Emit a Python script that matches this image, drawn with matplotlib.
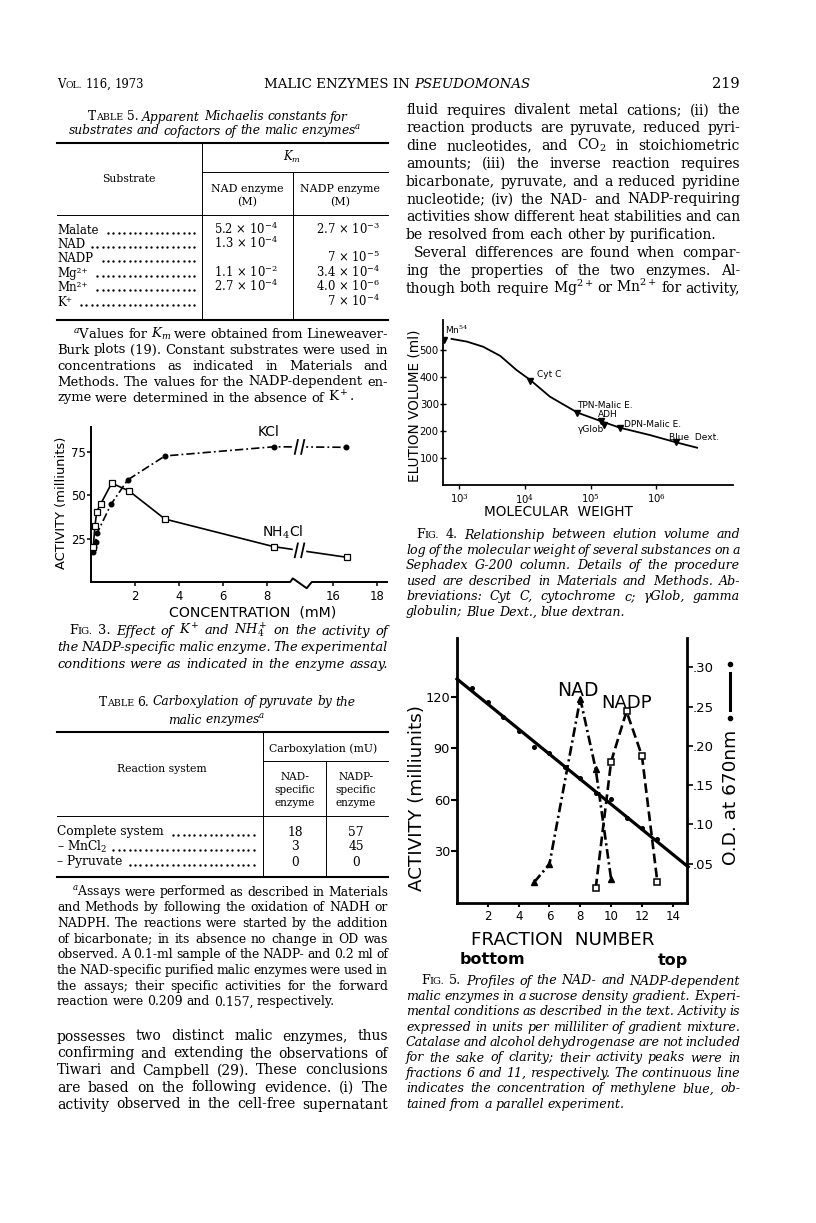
import matplotlib
matplotlib.use('Agg')
import matplotlib.pyplot as plt
import numpy as np
from matplotlib.patches import Rectangle

W, H = 816, 1223
SERIF = 'DejaVu Serif'
SANS = 'DejaVu Sans'
plt.rcParams['font.family'] = SANS
plt.rcParams['mathtext.fontset'] = 'dejavuserif'
plt.rcParams['lines.scale_dashes'] = False

# ---------------- data ----------------
# Table 5
substrates = ['Malate', 'NAD', 'NADP', 'Mg²⁺', 'Mn²⁺', 'K⁺']
km_nad = ['5.2 × 10$^{-4}$', '1.3 × 10$^{-4}$', '', '1.1 × 10$^{-2}$', '2.7 × 10$^{-4}$', '']
km_nadp = ['2.7 × 10$^{-3}$', '', '7 × 10$^{-5}$', '3.4 × 10$^{-4}$', '4.0 × 10$^{-6}$', '7 × 10$^{-4}$']

# Table 6
reactions = ['Complete system', '– MnCl$_2$', '– Pyruvate']
carb_nad = [18, 3, 0]
carb_nadp = [57, 45, 0]

# Fig 3 (concentration mM, activity milliunits)
kcl_mm = [0.10, 0.14, 0.21, 0.29, 0.91, 1.67, 3.36, 8.3, 16.6]
kcl_act = [17.5, 20.4, 23.3, 28.5, 44.8, 58.9, 72.7, 78.0, 77.7]
nh4_mm = [0.10, 0.18, 0.26, 0.44, 0.94, 1.73, 3.36, 8.3, 16.65]
nh4_act = [20.0, 32.3, 40.6, 45.0, 57.0, 52.5, 36.3, 20.4, 14.2]
conc_ticks = [2, 4, 6, 8, 16, 18]

# Fig 4 (molecular weight, elution volume ml)
markers_name = ['Mn$^{54}$', 'Cyt C', 'TPN-Malic E.', 'ADH', 'γGlob', 'DPN-Malic E.', 'Blue  Dext.']
markers_mw = [590, 12000, 63000, 145000, 160000, 280000, 2000000]
markers_vol = [537, 386, 268, 238, 222, 212, 158]
curve_mw = [760, 1300, 2300, 4200, 7400, 12000, 24000, 63000, 145000, 280000, 800000, 2000000, 4200000]
curve_vol = [541, 531, 512, 478, 426, 389, 327, 268, 236, 212, 185, 158, 138]

# Fig 5 (fraction number)
mb_frac = [1, 2, 3, 4, 5, 6, 7, 8, 9, 10, 11, 12, 13]
mb_od = [0.274, 0.256, 0.237, 0.219, 0.199, 0.191, 0.173, 0.159, 0.140, 0.132, 0.108, 0.096, 0.081]
mb_line_frac = [0, 15]
mb_line_od = [0.285, 0.046]
nad_frac = [5, 6, 8, 9, 10]
nad_act = [12.0, 22.7, 119.0, 78.0, 14.0]
nadp_frac = [9, 10, 11, 12, 13]
nadp_act = [8.5, 82.3, 111.6, 85.8, 12.4]

# ---------------- page ----------------
fig = plt.figure(figsize=(W / 100, H / 100), dpi=100)
page = fig.add_axes([0, 0, 1, 1])
page.set_xlim(0, W)
page.set_ylim(H, 0)
page.axis('off')
R = fig.canvas.get_renderer()
B = 3.5  # baseline offset from line centre
SP = 0.3 * 100 / 72  # normal word space, px per pt
GMIN = 0.2 * 100 / 72  # smallest word space allowed when justifying


def place(x, y, s, size, style='normal', ha='left', family=SERIF, **kw):
    return page.text(x, y, s, fontsize=size, style=style, ha=ha, va='baseline',
                     family=family, **kw)


def wid(t):
    return t.get_window_extent(R).width


def word(w, size, style):
    if w.startswith('^'):  # small caps
        a = place(0, 0, w[1], size)
        b = place(0, 0, w[2:].upper(), size * 0.78)
        wa = wid(a)
        return [(a, 0), (b, wa)], wa + wid(b)
    if w.startswith('~'):  # upright
        t = place(0, 0, w[1:], size)
        return [(t, 0)], wid(t)
    t = place(0, 0, w, size, style)
    return [(t, 0)], wid(t)


def drop(items):
    for parts, _ in items:
        for t, _ in parts:
            t.remove()


def line(s, x0, x1, y, size, style='normal', just=True, indent=0, center=None):
    items = [word(w, size, style) for w in s.split()]
    total = sum(wd for _, wd in items)
    n = len(items)
    if just and n > 1:
        gap = (x1 - x0 - indent - total) / (n - 1)
    else:
        gap = SP * size
    x = x0 + indent
    if center is not None:
        x = center - (total + gap * (n - 1)) / 2
    for parts, wd in items:
        for t, dx in parts:
            t.set_position((x + dx, y + B))
        x += wd + gap


def fit(lines, width, style, flags, indent, s0=10.0):
    ratios, limits = [], []
    for i, s in enumerate(lines):
        items = [word(w, s0, style) for w in s.split()]
        words = sum(wd for _, wd in items)
        n = len(items)
        drop(items)
        avail = width - (indent if i == 0 else 0)
        if flags[i]:
            ratios.append(avail / (words + (n - 1) * SP * s0))
            limits.append(avail / (words + (n - 1) * GMIN * s0))
        else:
            limits.append(avail / (words + (n - 1) * SP * s0))
    return s0 * min(float(np.median(ratios)), min(limits))


def para(lines, x0, x1, y0, dy, style='normal', indent=0, last_just=False, smax=10.0):
    flags = [last_just or i < len(lines) - 1 for i in range(len(lines))]
    size = min(fit(lines, x1 - x0, style, flags, indent), smax)
    for i, s in enumerate(lines):
        line(s, x0, x1, y0 + i * dy, size, style, flags[i], indent if i == 0 else 0)


def hrule(y, x0, x1, lw=0.7):
    page.plot([x0, x1], [y, y], color='k', lw=lw)


def vrule(x, y0, y1, lw=0.7):
    page.plot([x, x], [y0, y1], color='k', lw=lw)


def dots(x_start, x_end, y, pitch=5.4):
    xs = np.arange(np.ceil((x_start + 3) / pitch) * pitch, x_end, pitch)
    page.plot(xs, [y + B - 0.9] * len(xs), ls='none', marker='.', ms=1.4, color='k')


def rect(l, t, r, b):
    return [l / W, 1 - b / H, (r - l) / W, (b - t) / H]


L0, L1 = 57, 388
R0, R1 = 406, 740

# header
line('^Vol. 116, 1973', L0, L1, 84, 8.4, just=False)
ta = place(0, 84 + B, 'MALIC ENZYMES IN ', 9.6)
tb = place(0, 84 + B, 'PSEUDOMONAS', 9.6, style='italic')
wa, wb = wid(ta), wid(tb)
ta.set_x(397 - (wa + wb) / 2)
tb.set_x(397 - (wa + wb) / 2 + wa)
place(R1, 84 + B, '219', 10.5, ha='right')

# ---- Table 5
line('^Table ~5. Apparent Michaelis constants for', L0, L1, 117, 8.8, 'italic', False, center=218)
line('substrates and cofactors of the malic enzymes$^a$', L0, L1, 131, 8.8, 'italic', False,
     center=215)
hrule(143, L0, L1, 1.5)
hrule(172, 202, L1)
hrule(215, L0, L1)
hrule(320, L0, L1, 1.5)
vrule(202, 143, 320)
vrule(293, 172, 320)
place(292, 157 + B, '$K_m$', 8.4, ha='center')
place(129, 178 + B, 'Substrate', 7.8, ha='center')
place(247, 188 + B, 'NAD enzyme', 7.9, ha='center')
place(247, 202 + B, '(M)', 7.9, ha='center')
place(340, 188 + B, 'NADP enzyme', 7.9, ha='center')
place(340, 202 + B, '(M)', 7.9, ha='center')
for i, (sub, a, b) in enumerate(zip(substrates, km_nad, km_nadp)):
    y = 230 + 14.4 * i
    t = place(L0, y + B, sub, 8.5)
    dots(L0 + wid(t) + 2, 198, y)
    if a:
        place(278, y + B, a, 8.4, ha='right')
    if b:
        place(380, y + B, b, 8.4, ha='right')

para(['$^a$Values for $K_m$ were obtained from Lineweaver-',
      'Burk plots (19). Constant substrates were used in',
      'concentrations as indicated in Materials and',
      'Methods. The values for the NADP-dependent en-',
      'zyme were determined in the absence of K$^+$.'],
     L0, L1, 334, 16, indent=16)

# ---- Fig 3 caption
para(['^Fig. ~3. Effect of K$^+$ and NH$_4^+$ on the activity of',
      'the NADP-specific malic enzyme. The experimental',
      'conditions were as indicated in the enzyme assay.'],
     L0, L1, 631, 16.8, 'italic', indent=12, last_just=True)

# ---- Table 6
line('^Table ~6. Carboxylation of pyruvate by the', L0, L1, 702, 8.8, 'italic', False, center=227)
line('malic enzymes$^a$', L0, L1, 720, 8.8, 'italic', False, center=217)
hrule(732, L0, L1, 1.5)
hrule(761, 263, L1)
hrule(816, L0, L1)
hrule(877, L0, L1, 1.5)
vrule(263, 732, 877)
vrule(326, 761, 877)
place(323, 748 + B, 'Carboxylation (mU)', 7.8, ha='center')
place(162, 768 + B, 'Reaction system', 7.8, ha='center')
for j, s in enumerate(['NAD-', 'specific', 'enzyme']):
    place(295, 776 + 13.5 * j + B, s, 7.6, ha='center')
for j, s in enumerate(['NADP-', 'specific', 'enzyme']):
    place(356, 776 + 13.5 * j + B, s, 7.6, ha='center')
for i, (rx, a, b) in enumerate(zip(reactions, carb_nad, carb_nadp)):
    y = 832 + 15 * i
    t = place(L0, y + B, rx, 8.8)
    dots(L0 + wid(t) + 2, 259, y)
    place(295, y + B, str(a), 8.8, ha='center')
    place(356, y + B, str(b), 8.8, ha='center')

para(['$^a$Assays were performed as described in Materials',
      'and Methods by following the oxidation of NADH or',
      'NADPH. The reactions were started by the addition',
      'of bicarbonate; in its absence no change in OD was',
      'observed. A 0.1-ml sample of the NADP- and 0.2 ml of',
      'the NAD-specific purified malic enzymes were used in',
      'the assays; their specific activities for the forward',
      'reaction were 0.209 and 0.157, respectively.'],
     L0, L1, 892, 15.7, indent=15)

para(['possesses two distinct malic enzymes, thus',
      'confirming and extending the observations of',
      'Tiwari and Campbell (29). These conclusions',
      'are based on the following evidence. (i) The',
      'activity observed in the cell-free supernatant'],
     L0, L1, 1037, 17, last_just=True)

# ---- right column body
para(['fluid requires divalent metal cations; (ii) the',
      'reaction products are pyruvate, reduced pyri-',
      'dine nucleotides, and CO$_2$ in stoichiometric',
      'amounts; (iii) the inverse reaction requires',
      'bicarbonate, pyruvate, and a reduced pyridine',
      'nucleotide; (iv) the NAD- and NADP-requiring',
      'activities show different heat stabilities and can',
      'be resolved from each other by purification.'],
     R0, R1, 111, 17.8)
para(['Several differences are found when compar-',
      'ing the properties of the two enzymes. Al-',
      'though both require Mg$^{2+}$ or Mn$^{2+}$ for activity,'],
     R0, R1, 111 + 8 * 17.8, 17.8, indent=8, last_just=True)

# ---- Fig 4 caption
para(['^Fig. ~4. Relationship between elution volume and',
      'log of the molecular weight of several substances on a',
      'Sephadex G-200 column. Details of the procedure',
      'used are described in Materials and Methods. Ab-',
      'breviations: Cyt C, cytochrome c; γGlob, gamma',
      'globulin; Blue Dext., blue dextran.'],
     R0, R1, 535, 15.4, 'italic', indent=10)

# ---- Fig 5 caption
para(['^Fig. ~5. Profiles of the NAD- and NADP-dependent',
      'malic enzymes in a sucrose density gradient. Experi-',
      'mental conditions as described in the text. Activity is',
      'expressed in units per milliliter of gradient mixture.',
      'Catalase and alcohol dehydrogenase are not included',
      'for the sake of clarity; their activity peaks were in',
      'fractions 6 and 11, respectively. The continuous line',
      'indicates the concentration of methylene blue, ob-',
      'tained from a parallel experiment.'],
     R0, R1, 981, 15.4, 'italic', indent=15)


# ---------------- Fig 3 ----------------
def conc_pos(c):
    c = np.asarray(c, dtype=float)
    return np.where(c > 12, c - 5, c)


ax3 = fig.add_axes(rect(91, 427, 387, 582))
ax3.patch.set_visible(False)
ax3.set_xlim(0, 13.45)
ax3.set_ylim(0, 89.4)
for s in ['top', 'right', 'bottom']:
    ax3.spines[s].set_visible(False)
ax3.spines['left'].set_linewidth(1.4)
ax3.plot([0, 9.05, 9.17, 9.8, 10.03, 13.45], [0, 0, 2.1, -3.6, 0, 0],
         color='k', lw=1.4, clip_on=False)
ax3.set_xticks(conc_pos(conc_ticks))
ax3.set_xticklabels([str(c) for c in conc_ticks])
ax3.set_yticks([25, 50, 75])
ax3.tick_params(axis='both', direction='out', length=3, width=1.1, labelsize=8.4, pad=1)
ax3.tick_params(axis='x', pad=3)

kx, nx = conc_pos(kcl_mm), conc_pos(nh4_mm)
ax3.plot(kx, kcl_act, color='k', lw=1.2, dashes=(6, 2.2, 1.3, 2.2), zorder=2)
ax3.plot(kx, kcl_act, ls='none', marker='o', ms=3.3, color='k', zorder=5)
ax3.plot(nx, nh4_act, color='k', lw=1.2, zorder=2)
ax3.plot(nx, nh4_act, ls='none', marker='s', ms=3.8, mfc='white', mec='k', mew=0.9, zorder=5)
for xs, ys in [(kx, kcl_act), (nx, nh4_act)]:
    yb = np.interp(9.45, xs, ys)
    ax3.add_patch(Rectangle((9.18, yb - 6), 0.55, 12, color='white', zorder=3))
    for p in (9.33, 9.62):
        ax3.plot([p - 0.07, p + 0.07], [yb - 4, yb + 4], color='k', lw=1.3, zorder=4)

place(269, 433 + B, 'KCl', 10, family=SANS, ha='center')
place(283, 533 + B, 'NH$_4$Cl', 10, family=SANS, ha='center')
page.text(62, 503, 'ACTIVITY (milliunits)', fontsize=9.4, rotation=90, ha='center',
          va='center', family=SANS)
page.text(253, 613, 'CONCENTRATION  (mM)', fontsize=10.2, ha='center', va='center', family=SANS)

# ---------------- Fig 4 ----------------
ax4 = fig.add_axes(rect(443, 320, 733, 485))
ax4.patch.set_visible(False)
ax4.set_xscale('log')
ax4.set_xlim(10 ** 2.75, 10 ** 7.17)
ax4.set_ylim(0, 611)
for s in ['top', 'right']:
    ax4.spines[s].set_visible(False)
for s in ['left', 'bottom']:
    ax4.spines[s].set_linewidth(1.3)
ax4.set_xticks([1e3, 1e4, 1e5, 1e6])
ax4.set_xticklabels(['10$^{3}$', '10$^{4}$', '10$^{5}$', '10$^{6}$'])
ax4.xaxis.set_minor_locator(matplotlib.ticker.NullLocator())
ax4.set_yticks([100, 200, 300, 400, 500])
ax4.tick_params(axis='y', direction='inout', length=4, width=1, labelsize=7.3, pad=1)
ax4.tick_params(axis='x', direction='out', length=3, width=1, labelsize=7.3, pad=2)
ax4.plot(curve_mw, curve_vol, color='k', lw=1.3)
ax4.plot(markers_mw, markers_vol, ls='none', marker='v', ms=4.5, color='k')
label_offsets = [(1, 10, 'left'), (7, 6, 'left'), (0, 7, 'left'), (-3, 6, 'left'),
                 (0, -4, 'right'), (4, 3, 'left'), (-7, 5, 'left')]
for nm, mw, v, (dx, dy, ha) in zip(markers_name, markers_mw, markers_vol, label_offsets):
    ax4.annotate(nm, (mw, v), xytext=(dx, dy), textcoords='offset pixels',
                 fontsize=6.5, ha=ha, va='center')
page.text(415, 406, 'ELUTION VOLUME (ml)', fontsize=9.8, rotation=90, ha='center',
          va='center', family=SANS)
page.text(558, 512, 'MOLECULAR  WEIGHT', fontsize=9.8, ha='center', va='center', family=SANS)

# ---------------- Fig 5 ----------------
ax5 = fig.add_axes(rect(457, 638, 687, 903))
ax5.patch.set_visible(False)
ax5.set_xlim(0, (687 - 456.4) / 15.45)
ax5.set_ylim(0, (903 - 638) / 1.717)
ax5r = ax5.twinx()
ax5r.set_ylim(0, (903 - 638) / 786)
ax5.spines['top'].set_visible(False)
ax5.spines['right'].set_visible(False)
for s in ['top', 'left', 'bottom']:
    ax5r.spines[s].set_visible(False)
ax5.spines['left'].set_linewidth(2.0)
ax5.spines['bottom'].set_linewidth(2.0)
ax5r.spines['right'].set_linewidth(2.0)
ax5.set_xticks([2, 4, 6, 8, 10, 12, 14])
ax5.set_yticks([30, 60, 90, 120])
ax5r.set_yticks([0.05, 0.10, 0.15, 0.20, 0.25, 0.30])
ax5r.set_yticklabels(['.05', '.10', '.15', '.20', '.25', '.30'])
ax5.tick_params(axis='y', direction='out', length=4, width=1.5, labelsize=9.3, pad=1)
ax5.tick_params(axis='x', direction='out', length=3, width=1.5, labelsize=8.5, pad=2)
ax5r.tick_params(axis='y', direction='out', length=4, width=1.2, labelsize=9.5, pad=0)

ax5r.plot(mb_line_frac, mb_line_od, color='k', lw=2.3, clip_on=False)
ax5r.plot(mb_frac, mb_od, ls='none', marker='o', ms=2.6, color='k')
ax5.plot(nad_frac, nad_act, color='k', lw=1.9, dashes=(7, 2.6, 1.6, 2.6))
ax5.plot(nad_frac, nad_act, ls='none', marker='^', ms=5, color='k')
ax5.plot(nadp_frac, nadp_act, color='k', lw=1.9, dashes=(7, 3.2))
ax5.plot(nadp_frac, nadp_act, ls='none', marker='s', ms=5, mfc='white', mec='k', mew=1.1)

page.text(578, 690, 'NAD', fontsize=13.5, ha='center', va='center', family=SANS)
page.text(627, 703, 'NADP', fontsize=13, ha='center', va='center', family=SANS)
page.text(417, 798, 'ACTIVITY (milliunits)', fontsize=13.2, rotation=90, ha='center',
          va='center', family=SANS)
page.text(731, 797, 'O.D. at 670nm', fontsize=13.3, rotation=90, ha='center', va='center',
          family=SANS)
page.plot([730, 730], [673, 710], color='k', lw=2.2)
page.plot([730, 730], [664, 718], ls='none', marker='o', ms=3, color='k')
page.text(563, 940, 'FRACTION  NUMBER', fontsize=13.2, ha='center', va='center', family=SANS)
page.text(492, 960, 'bottom', fontsize=11.5, ha='center', va='center', family=SANS,
          fontweight='bold')
page.text(673, 960, 'top', fontsize=11.5, ha='center', va='center', family=SANS,
          fontweight='bold')

fig.savefig('out.png', dpi=100, facecolor='white')
